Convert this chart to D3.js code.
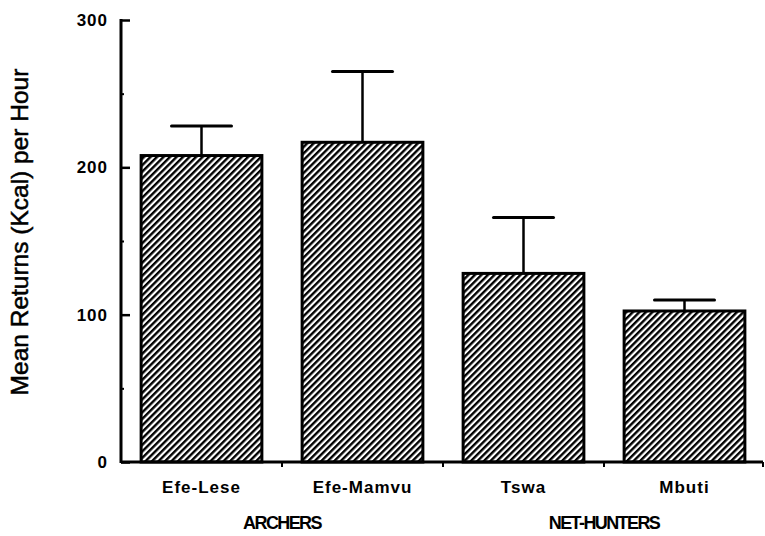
<!DOCTYPE html>
<html>
<head>
<meta charset="utf-8">
<script src="https://cdn.jsdelivr.net/npm/d3@7"></script>
<style>
  html, body { margin: 0; padding: 0; background: #fff; }
  svg { display: block; }
  text { font-family: "Liberation Sans", Arial, Helvetica, sans-serif; fill: #000; }
</style>
</head>
<body>
<svg id="chart" width="765" height="536"></svg>
<script>
// ---- data ----
const categories = ["Efe-Lese", "Efe-Mamvu", "Tswa", "Mbuti"];
const means = [208, 217, 128, 102.5];
const errorTops = [228, 265, 166, 110];
const groupNames = ["ARCHERS", "NET-HUNTERS"];
const groupMembers = [["Efe-Lese", "Efe-Mamvu"], ["Tswa", "Mbuti"]];
const yTicks = [0, 100, 200, 300];
const yMinorTicks = [50, 150, 250];
const yTitle = "Mean Returns (Kcal) per Hour";

// ---- layout ----
const svg = d3.select("#chart");
const x0 = 121, x1 = 765, yBase = 462, yTop = 20;

const x = d3.scaleBand().domain(categories).range([x0, x1])
  .paddingInner(0.25).paddingOuter(0.125);
const y = d3.scaleLinear().domain([0, 300]).range([yBase, yTop]);

// hatch pattern
const defs = svg.append("defs");
const pat = defs.append("pattern")
  .attr("id", "hatch")
  .attr("patternUnits", "userSpaceOnUse")
  .attr("width", 4.6).attr("height", 4.6)
  .attr("patternTransform", "rotate(45)");
pat.append("rect").attr("width", 4.6).attr("height", 4.6).attr("fill", "#fff");
pat.append("line").attr("x1", 1.2).attr("y1", 0).attr("x2", 1.2).attr("y2", 4.6)
  .attr("stroke", "#000").attr("stroke-width", 2.4);

// error bars (drawn first so bar outline covers stem base)
const capW = 60;
const eb = svg.append("g");
categories.forEach((c, i) => {
  const cx = x(c) + x.bandwidth() / 2;
  eb.append("line").attr("x1", cx).attr("x2", cx)
    .attr("y1", y(means[i])).attr("y2", y(errorTops[i]))
    .attr("stroke", "#000").attr("stroke-width", 2.5);
  eb.append("line").attr("x1", cx - capW / 2).attr("x2", cx + capW / 2)
    .attr("y1", y(errorTops[i])).attr("y2", y(errorTops[i]))
    .attr("stroke", "#000").attr("stroke-width", 3).attr("stroke-linecap", "round");
});

// bars
svg.append("g").selectAll("rect").data(categories).join("rect")
  .attr("x", d => x(d))
  .attr("y", (d, i) => y(means[i]))
  .attr("width", x.bandwidth())
  .attr("height", (d, i) => yBase - y(means[i]))
  .attr("fill", "url(#hatch)")
  .attr("stroke", "#000")
  .attr("stroke-width", 3);

// y axis
const yAxis = d3.axisRight(y).tickValues(yTicks).tickSize(9).tickFormat("");
const gy = svg.append("g").attr("transform", `translate(${x0},0)`).call(yAxis);
gy.select(".domain").remove();
gy.selectAll(".tick line").attr("stroke", "#000").attr("stroke-width", 2.5);
svg.append("line").attr("x1", x0).attr("x2", x0).attr("y1", yTop - 1).attr("y2", yBase + 1)
  .attr("stroke", "#000").attr("stroke-width", 3);
const yMinor = d3.axisRight(y).tickValues(yMinorTicks).tickSize(3).tickFormat("");
const gym = svg.append("g").attr("transform", `translate(${x0},0)`).call(yMinor);
gym.select(".domain").remove();
gym.selectAll(".tick line").attr("stroke", "#000").attr("stroke-width", 2);

svg.append("g").selectAll("text").data(yTicks).join("text")
  .attr("x", 108).attr("y", d => y(d)).attr("dy", "0.36em")
  .attr("text-anchor", "end")
  .style("font-size", "17px").style("font-weight", "bold").style("letter-spacing", "1px")
  .text(d => d);

// x axis
const step = x.step();
const boundaries = categories.map(c => x(c) + x.bandwidth() + (step - x.bandwidth()) / 2);
svg.append("line").attr("x1", x0).attr("x2", 763).attr("y1", yBase).attr("y2", yBase)
  .attr("stroke", "#000").attr("stroke-width", 3);
svg.append("g").selectAll("line").data(boundaries).join("line")
  .attr("x1", d => Math.min(d, 763)).attr("x2", d => Math.min(d, 763))
  .attr("y1", yBase).attr("y2", yBase + 5)
  .attr("stroke", "#000").attr("stroke-width", 2);

svg.append("g").selectAll("text").data(categories).join("text")
  .attr("x", d => x(d) + x.bandwidth() / 2).attr("y", 493)
  .attr("text-anchor", "middle")
  .style("font-size", "17px").style("font-weight", "bold").style("letter-spacing", "1px")
  .text(d => d);

// group labels
svg.append("g").selectAll("text").data(groupNames).join("text")
  .attr("x", (d, i) => d3.mean(groupMembers[i], c => x(c) + x.bandwidth() / 2))
  .attr("y", 529)
  .attr("text-anchor", "middle")
  .style("font-size", "18px").style("font-weight", "bold").style("letter-spacing", "-1.6px")
  .text(d => d);

// y title
svg.append("text")
  .attr("transform", `translate(28, 232) rotate(-90)`)
  .attr("text-anchor", "middle")
  .style("font-size", "24.5px")
  .style("stroke", "#000").style("stroke-width", "0.5px")
  .text(yTitle);
</script>
</body>
</html>
